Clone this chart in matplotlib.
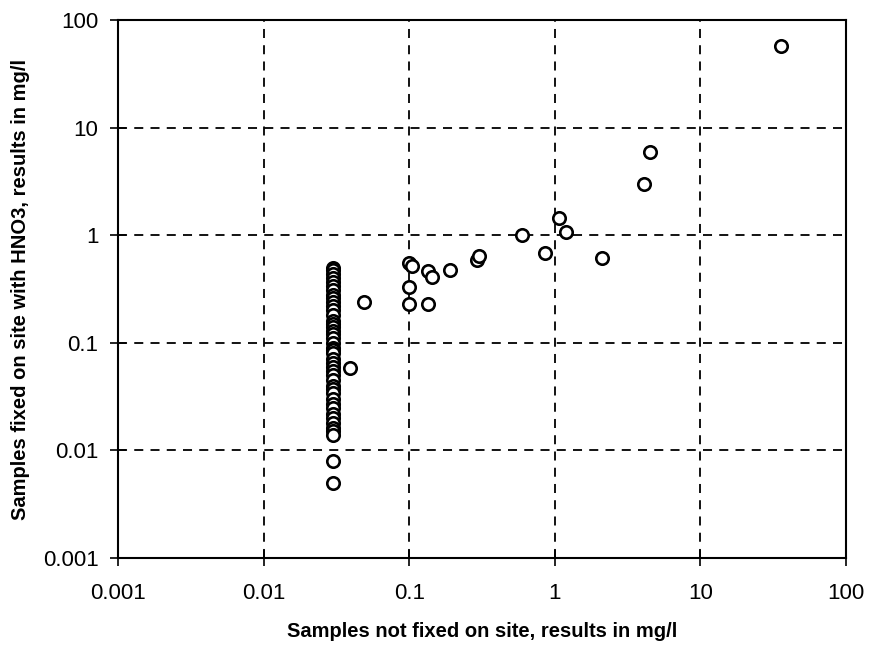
import matplotlib
matplotlib.use("Agg")
import matplotlib.pyplot as plt
from matplotlib.ticker import FixedLocator, FixedFormatter, NullLocator

# Column of results at x = 0.03 mg/l (not fixed)
col_x = 0.03
col_y = [0.5, 0.47, 0.44, 0.4, 0.37, 0.34, 0.31, 0.28, 0.26, 0.24, 0.22, 0.2,
         0.18, 0.16, 0.15, 0.14, 0.13, 0.12, 0.11, 0.1, 0.09, 0.085, 0.08, 0.07,
         0.065, 0.06, 0.055, 0.05, 0.045, 0.04, 0.037, 0.034, 0.03, 0.027,
         0.025, 0.022, 0.02, 0.018, 0.016, 0.015, 0.014, 0.008, 0.005]

# Other samples
not_fixed = [0.039, 0.049, 0.1, 0.105, 0.1, 0.1, 0.135, 0.143, 0.135, 0.19,
             0.29, 0.30, 0.6, 0.86, 1.07, 1.19, 2.1, 4.1, 4.5, 36]
fixed = [0.058, 0.24, 0.55, 0.52, 0.33, 0.23, 0.46, 0.41, 0.23, 0.475,
         0.59, 0.64, 1.0, 0.68, 1.45, 1.08, 0.61, 3.0, 5.9, 57]

ticks = [0.001, 0.01, 0.1, 1, 10, 100]
tick_labels = ["0.001", "0.01", "0.1", "1", "10", "100"]

xlabel = "Samples not fixed on site, results in mg/l"
ylabel = "Samples fixed on site with HNO3, results in mg/l"

fig = plt.figure(figsize=(8.71, 6.5), dpi=100)
ax = fig.add_axes([118/871, 92/650, (846-118)/871, (558-20)/650])

xs = [col_x] * len(col_y) + not_fixed
ys = col_y + fixed
ax.scatter(xs, ys, s=80, facecolors="white", edgecolors="black",
           linewidths=1.9, zorder=3)

ax.set_xscale("log")
ax.set_yscale("log")
ax.set_xlim(0.001, 100)
ax.set_ylim(0.001, 100)

for axis in (ax.xaxis, ax.yaxis):
    axis.set_major_locator(FixedLocator(ticks))
    axis.set_major_formatter(FixedFormatter(tick_labels))
    axis.set_minor_locator(NullLocator())

ax.tick_params(axis="both", which="major", direction="inout", length=12,
               width=1.2, labelsize=16, colors="black")
ax.tick_params(axis="x", pad=12)
ax.tick_params(axis="y", pad=8)
for lab in ax.get_xticklabels() + ax.get_yticklabels():
    lab.set_fontfamily("Liberation Sans")

ax.grid(True, which="major", color="black", linestyle=(0, (5, 4)),
        linewidth=1.3)
ax.set_axisbelow(True)

for sp in ax.spines.values():
    sp.set_linewidth(1.5)
    sp.set_color("black")

ax.set_xlabel(xlabel, fontsize=14.5, fontweight="bold",
              fontfamily="Liberation Sans", labelpad=13)
ax.set_ylabel(ylabel, fontsize=14.5, fontweight="bold",
              fontfamily="Liberation Sans", labelpad=9)

fig.savefig("out.png", dpi=100, facecolor="white")
